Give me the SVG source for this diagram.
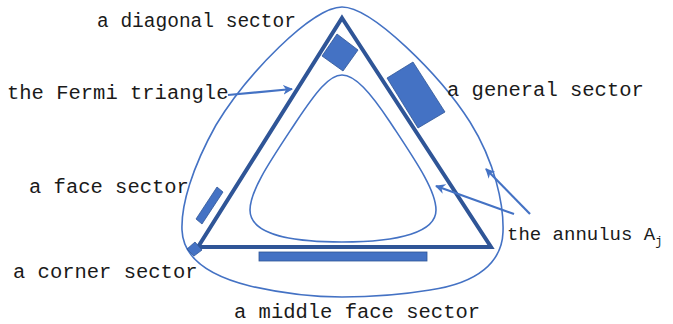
<svg xmlns="http://www.w3.org/2000/svg" width="673" height="324" viewBox="0 0 673 324">
<defs>
<marker id="ah" viewBox="0 0 10 10" refX="9" refY="5" markerWidth="4.5" markerHeight="4.5" orient="auto" markerUnits="strokeWidth">
<path d="M0,0 L10,5 L0,10 L3,5 Z" fill="#4472C4"/>
</marker>
<style>
.lbl{font-family:"Liberation Mono","DejaVu Sans Mono",monospace;font-size:20.5px;fill:#1a1a1a}
.thin{fill:none;stroke:#4472C4;stroke-width:1.6}
.sec{fill:#4472C4;stroke:#2F5597;stroke-width:0.8}
.arr{fill:none;stroke:#4472C4;stroke-width:2.2;marker-end:url(#ah)}
</style>
</defs>
<rect width="673" height="324" fill="#fff"/>
<g id="outer"><path class="thin" d="M342,7 C372,7 440,75 470,122 C495,162 504,205 503,232 C502,262 478,283 430,290 C400,295 370,297 342,297 C310,297 280,293 250,286 C210,276 183,258 182,230 C181,205 192,168 216,125 C246,75 312,7 342,7 Z"/></g>
<g id="inner"><path class="thin" d="M342,75 C355,75 370,92 390,122 C415,160 436,190 436,210 C436,232 400,242 342,242 C284,242 250,232 250,210 C250,190 271,160 296,122 C316,92 329,75 342,75 Z"/></g>
<g id="triangle"><path d="M342,18 L491,247 L198,247 Z" fill="none" stroke="#2F5597" stroke-width="4" stroke-linejoin="miter"/></g>
<g id="diagonal-sector"><polygon class="sec" points="322,56 337,34 358,50 343,71"/></g>
<g id="general-sector"><polygon class="sec" points="387,78 413,62 445,112 418,128"/></g>
<g id="face-sector"><polygon class="sec" points="196,219 217,187 223,192 202,224"/></g>
<g id="corner-sector"><polygon class="sec" points="187,249 195,242 202,250 194,256"/></g>
<g id="middle-face-sector"><rect class="sec" x="259" y="252" width="168" height="9"/></g>
<g id="connectors">
<line class="arr" x1="228" y1="95" x2="292" y2="89"/>
<line class="arr" x1="514" y1="214" x2="436" y2="186"/>
<line class="arr" x1="530" y1="214" x2="486" y2="169"/>
</g>
<g id="labels">
<text class="lbl" x="97" y="27" style="font-size:19.5px">a diagonal sector</text>
<text class="lbl" x="7" y="99">the Fermi triangle</text>
<text class="lbl" x="447" y="96">a general sector</text>
<text class="lbl" x="29" y="193">a face sector</text>
<text class="lbl" x="13" y="278">a corner sector</text>
<text class="lbl" x="234" y="318">a middle face sector</text>
<text class="lbl" x="507" y="240" style="font-size:19px">the annulus A<tspan font-size="12px" dy="5">j</tspan></text>
</g>
</svg>
